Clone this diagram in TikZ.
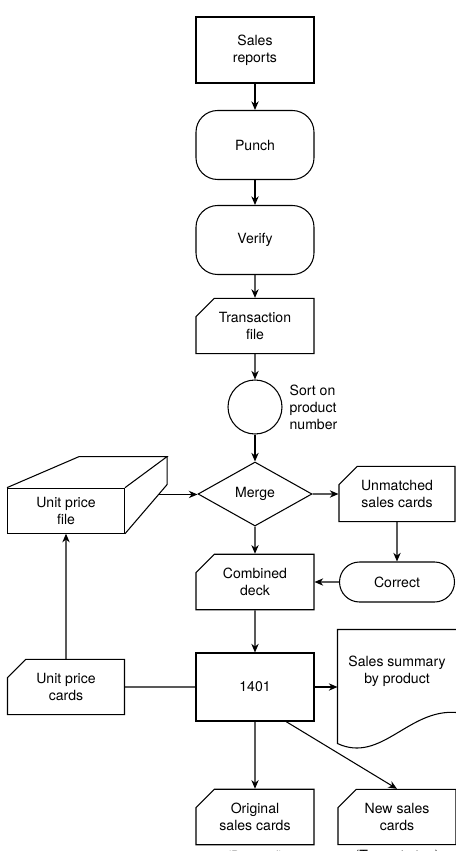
\documentclass[tikz,border=0pt]{standalone}
\usepackage{fontspec}
\setmainfont{TeX Gyre Heros}
\usetikzlibrary{positioning,shapes.geometric,shapes.misc,calc,arrows.meta}

\tikzset{
  box/.style={draw,rectangle,minimum width=3.54cm,minimum height=1.98cm,align=center},
  term/.style={draw,rectangle,rounded corners=0.65cm,minimum width=3.54cm,minimum height=2.07cm,align=center},
  card/.style={draw,chamfered rectangle,chamfered rectangle corners=north west,
    chamfered rectangle xsep=0.25cm,chamfered rectangle ysep=0.3cm,
    minimum width=3.54cm,minimum height=1.59cm,align=center},
  decision/.style={draw,diamond,minimum width=3.42cm,minimum height=1.92cm,inner sep=0pt},
  doc/.style={rectangle,minimum width=3.54cm,minimum height=2.46cm,align=center}
}

\begin{document}
\begin{tikzpicture}[>={Stealth[length=2.6mm,width=2.2mm]},line width=0.9pt,
    node distance=2.85cm,on grid,font=\fontsize{12}{14.5}\selectfont]
  \useasboundingbox (0,0) rectangle (13.65,-25.53);
  % main column
  \node[box] (sales) at (7.65,-1.5) {Sales\\reports};
  \node[term] (punch) [below=of sales] {Punch};
  \node[term] (verify) [below=of punch] {Verify};
  \node[card] (trans) [below=2.58cm of verify] {Transaction\\file};
  \node[draw,circle,minimum size=1.62cm] (sort) [below=2.43cm of trans] {};
  \node[anchor=west,align=left] (sortnote) at ([xshift=0.08cm]sort.east) {Sort on\\product\\number};
  \node[decision] (merge) [below=2.61cm of sort] {Merge};
  \node[card,minimum height=1.62cm] (combined) [below=2.64cm of merge] {Combined\\deck};
  \node[box,minimum height=2.04cm] (ibm) [below=3.15cm of combined] {1401};
  \node[card] (orig) [below=3.9cm of ibm] {Original\\sales cards};
  % right column
  \node[card,minimum width=3.48cm,minimum height=1.62cm] (unmatched) [right=4.26cm of merge] {Unmatched\\sales cards};
  \node[term,minimum width=3.45cm,minimum height=1.2cm,rounded corners=0.6cm] (correct) [below=2.64cm of unmatched] {Correct};
  \node[doc] (summary) [right=4.26cm of ibm,yshift=0.48cm] {Sales summary\\by product};
  \node[card] (newcards) [right=4.26cm of orig] {New sales\\cards};
  % left column
  \node[box,minimum width=3.51cm,minimum height=1.35cm] (ufile) [left=5.67cm of merge,yshift=-0.5cm] {Unit price\\file};
  \node[card,minimum width=3.51cm,minimum height=1.56cm] (ucards) [left=5.67cm of ibm] {Unit price\\cards};
  % notes under the cards
  \node[anchor=north,inner sep=0pt] (discard) at ([yshift=-0.15cm]orig.south) {(Discard)};
  \node[anchor=north,inner sep=0pt] (nextstep) at ([yshift=-0.15cm]newcards.south) {(To next step)};

  % box faces of the file
  \coordinate (ufile-btr) at ($(ufile.north east)+(1.26,0.93)$);
  \coordinate (ufile-bbr) at ($(ufile.north east)+(1.26,0.09)$);
  \draw (ufile.north west) -- ++(2.16,0.93) -- (ufile-btr) -- (ufile.north east);
  \draw (ufile-btr) -- (ufile-bbr) -- (ufile.south east);
  \coordinate (ufile-out) at ($(ufile-bbr)!0.2!(ufile.south east)$);

  % document outline
  \draw (summary.south east) -- (summary.north east) -- (summary.north west)
    -- ($(summary.south west)+(0,-0.93)$) to[out=-25,in=175] (summary.south east);

  \path[->]
  (sales) edge (punch)
  (punch) edge (verify)
  (verify) edge (trans)
  (trans) edge (sort)
  (sort) edge (merge)
  (ufile-out) edge (ufile-out -| merge.west)
  (merge) edge (unmatched)
  (merge) edge (combined)
  (unmatched) edge (correct)
  (correct) edge (combined)
  (combined) edge (ibm)
  (ibm.east) edge (ibm.east -| summary.west)
  (ibm) edge (orig)
  ([xshift=0.93cm]ibm.south) edge (newcards.north)
  (ucards) edge (ufile);
  \draw (ucards) -- (ibm);
\end{tikzpicture}
\end{document}
